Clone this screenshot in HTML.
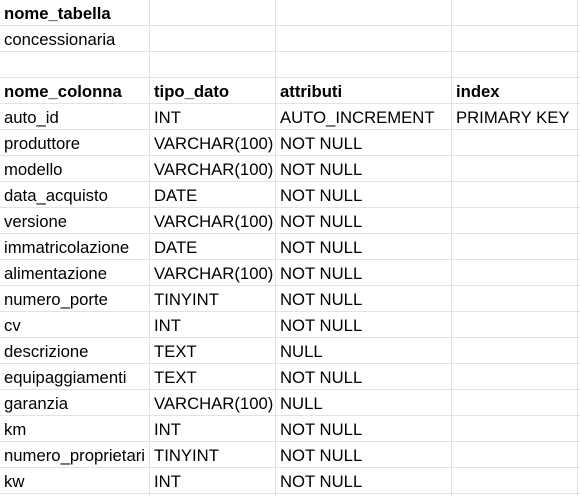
<!DOCTYPE html>
<html><head><meta charset="utf-8"><style>
*{margin:0;padding:0}
body{width:580px;height:496px;background:#fff;position:relative;overflow:hidden;font-family:"Liberation Sans",Arial,sans-serif;font-size:16.7px;color:#000}
.h{position:absolute;left:0;width:580px;height:1px;background:#e2e2e2}
.v{position:absolute;top:0;height:496px;width:1px;background:#e2e2e2}
.r{position:absolute;left:0;height:25px;line-height:27px;white-space:nowrap}
.r span{position:absolute;top:0}
.b{font-weight:bold}
</style></head><body>
<div class="v" style="left:149px"></div>
<div class="v" style="left:275px"></div>
<div class="v" style="left:451px"></div>
<div class="v" style="left:577px"></div>
<div id="lines"></div>
<script>
var L=document.getElementById('lines');
for(var k=0;k<19;k++){var d=document.createElement('div');d.className='h';d.style.top=(25+26*k)+'px';L.appendChild(d);}
</script>
<div class="r b" style="top:0"><span style="left:4px">nome_tabella</span></div>
<div class="r" style="top:26px"><span style="left:4px">concessionaria</span></div>
<div class="r b" style="top:78px"><span style="left:4px">nome_colonna</span><span style="left:154px">tipo_dato</span><span style="left:280px">attributi</span><span style="left:456px">index</span></div>
<div class="r" style="top:104px"><span style="left:4px">auto_id</span><span style="left:154px">INT</span><span style="left:280px">AUTO_INCREMENT</span><span style="left:456px">PRIMARY KEY</span></div>
<div class="r" style="top:130px"><span style="left:4px">produttore</span><span style="left:154px">VARCHAR(100)</span><span style="left:280px">NOT NULL</span></div>
<div class="r" style="top:156px"><span style="left:4px">modello</span><span style="left:154px">VARCHAR(100)</span><span style="left:280px">NOT NULL</span></div>
<div class="r" style="top:182px"><span style="left:4px">data_acquisto</span><span style="left:154px">DATE</span><span style="left:280px">NOT NULL</span></div>
<div class="r" style="top:208px"><span style="left:4px">versione</span><span style="left:154px">VARCHAR(100)</span><span style="left:280px">NOT NULL</span></div>
<div class="r" style="top:234px"><span style="left:4px">immatricolazione</span><span style="left:154px">DATE</span><span style="left:280px">NOT NULL</span></div>
<div class="r" style="top:260px"><span style="left:4px">alimentazione</span><span style="left:154px">VARCHAR(100)</span><span style="left:280px">NOT NULL</span></div>
<div class="r" style="top:286px"><span style="left:4px">numero_porte</span><span style="left:154px">TINYINT</span><span style="left:280px">NOT NULL</span></div>
<div class="r" style="top:312px"><span style="left:4px">cv</span><span style="left:154px">INT</span><span style="left:280px">NOT NULL</span></div>
<div class="r" style="top:338px"><span style="left:4px">descrizione</span><span style="left:154px">TEXT</span><span style="left:280px">NULL</span></div>
<div class="r" style="top:364px"><span style="left:4px">equipaggiamenti</span><span style="left:154px">TEXT</span><span style="left:280px">NOT NULL</span></div>
<div class="r" style="top:390px"><span style="left:4px">garanzia</span><span style="left:154px">VARCHAR(100)</span><span style="left:280px">NULL</span></div>
<div class="r" style="top:416px"><span style="left:4px">km</span><span style="left:154px">INT</span><span style="left:280px">NOT NULL</span></div>
<div class="r" style="top:442px"><span style="left:4px">numero_proprietari</span><span style="left:154px">TINYINT</span><span style="left:280px">NOT NULL</span></div>
<div class="r" style="top:468px"><span style="left:4px">kw</span><span style="left:154px">INT</span><span style="left:280px">NOT NULL</span></div>
</body></html>
